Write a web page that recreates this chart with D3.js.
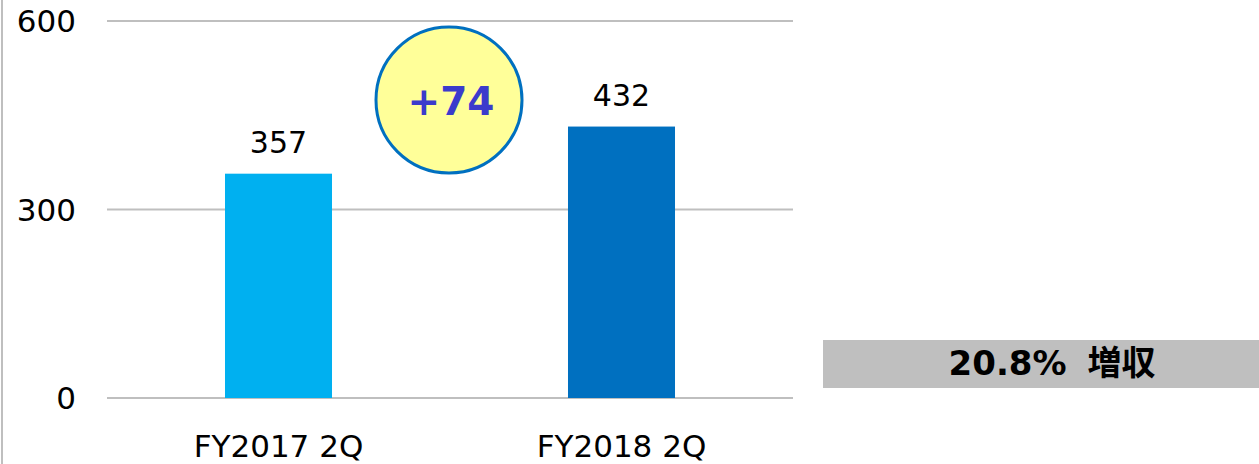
<!DOCTYPE html>
<html>
<head>
<meta charset="utf-8">
<script src="https://d3js.org/d3.v7.min.js"></script>
<style>
  body { margin: 0; background: #fff; }
  svg { display: block; font-family: "DejaVu Sans", Verdana, sans-serif; }
</style>
</head>
<body>
<svg width="1259" height="464"></svg>
<script>
const categories = ['FY2017 2Q', 'FY2018 2Q'];
const values = [357, 432];
const barColors = ['#00b0f0', '#0070c0'];
const yTicks = [0, 300, 600];
const deltaLabel = '+74';
const growthLabel = '20.8% 増収';

const svg = d3.select('svg');

const x = d3.scaleBand()
  .domain(categories)
  .range([107, 793])
  .paddingInner(0.688)
  .paddingOuter(0.344);

const y = d3.scaleLinear()
  .domain([0, 600])
  .range([398, 21]);

// left frame line
svg.append('line')
  .attr('x1', 2).attr('x2', 2)
  .attr('y1', 0).attr('y2', 464)
  .attr('stroke', '#bfbfbf').attr('stroke-width', 2);

// gridlines
svg.append('g')
  .selectAll('line')
  .data(yTicks)
  .join('line')
  .attr('x1', 107).attr('x2', 793)
  .attr('y1', d => y(d)).attr('y2', d => y(d))
  .attr('stroke', '#bfbfbf').attr('stroke-width', 2);

// y tick labels
svg.append('g')
  .selectAll('text')
  .data(yTicks)
  .join('text')
  .attr('x', 76)
  .attr('y', d => y(d) + 11)
  .attr('text-anchor', 'end')
  .attr('font-size', 31)
  .attr('fill', '#000')
  .text(d => d);

// bars
svg.append('g')
  .selectAll('rect')
  .data(values)
  .join('rect')
  .attr('x', (d, i) => x(categories[i]))
  .attr('y', d => y(d))
  .attr('width', x.bandwidth())
  .attr('height', d => y(0) - y(d))
  .attr('fill', (d, i) => barColors[i]);

// value labels
svg.append('g')
  .selectAll('text')
  .data(values)
  .join('text')
  .attr('x', (d, i) => x(categories[i]) + x.bandwidth() / 2)
  .attr('y', d => y(d) - 21)
  .attr('text-anchor', 'middle')
  .attr('font-size', 30)
  .attr('fill', '#000')
  .text(d => d);

// category labels
svg.append('g')
  .selectAll('text')
  .data(categories)
  .join('text')
  .attr('x', d => x(d) + x.bandwidth() / 2)
  .attr('y', 457)
  .attr('text-anchor', 'middle')
  .attr('font-size', 31)
  .attr('fill', '#000')
  .text(d => d);

// difference bubble
svg.append('circle')
  .attr('cx', 449).attr('cy', 100).attr('r', 73)
  .attr('fill', '#ffff99')
  .attr('stroke', '#0070c0').attr('stroke-width', 3);

svg.append('text')
  .attr('x', 451).attr('y', 115)
  .attr('text-anchor', 'middle')
  .attr('font-size', 39)
  .attr('font-weight', 'bold')
  .attr('fill', '#3b3bcc')
  .text(deltaLabel);

// growth box
svg.append('rect')
  .attr('x', 823).attr('y', 340)
  .attr('width', 436).attr('height', 48)
  .attr('fill', '#bfbfbf');

svg.append('text')
  .attr('x', 1052).attr('y', 375)
  .attr('text-anchor', 'middle')
  .attr('font-size', 34)
  .attr('font-weight', 'bold')
  .attr('word-spacing', 9)
  .attr('font-family', '"DejaVu Sans", "Noto Sans CJK JP", sans-serif')
  .attr('fill', '#000')
  .text(growthLabel);
</script>
</body>
</html>
